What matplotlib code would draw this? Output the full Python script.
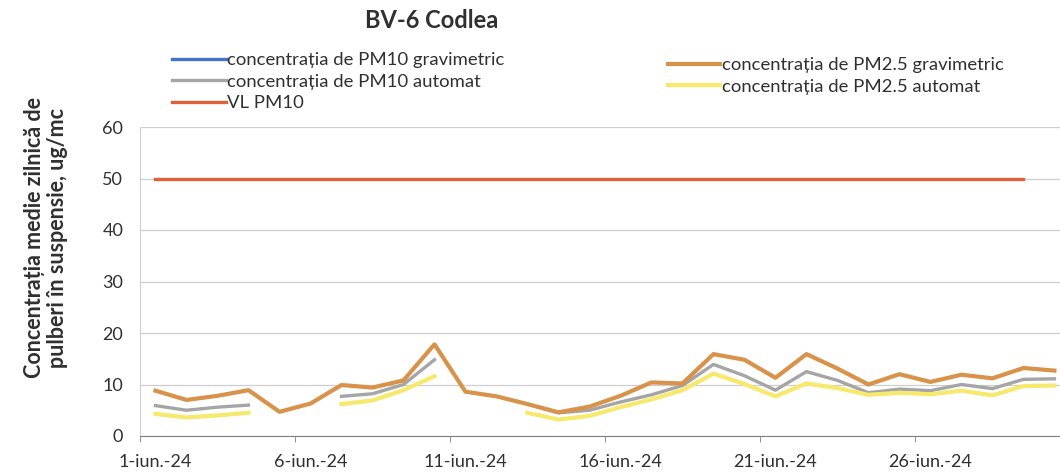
import matplotlib
matplotlib.use("Agg")
import matplotlib.pyplot as plt
import numpy as np

nan = np.nan

# ── Data: daily mean concentrations, June 2024, station BV-6 Codlea ────────
zile = list(range(1, 31))
etichete_x = ["1-iun.-24", "6-iun.-24", "11-iun.-24", "16-iun.-24", "21-iun.-24", "26-iun.-24"]
zile_etichete = [1, 6, 11, 16, 21, 26]

pm10_grav = [nan] * 30
pm10_auto = [5.9, 5.0, 5.6, 6.0, nan, nan, 7.7, 8.2, 10.0, 14.8,
             nan, nan, 6.2, 4.5, 5.0, 6.6, 8.0, 9.8, 13.9, 11.7,
             8.9, 12.5, 10.8, 8.4, 9.1, 8.8, 10.0, 9.2, 11.0, 11.1]
vl_pm10 = [50, 50, 50, 50, 50, 50, 50, 50, 50, 50,
           50, 50, 50, 50, 50, 50, 50, 50, 50, 50,
           50, 50, 50, 50, 50, 50, 50, 50, 50, nan]
pm25_grav = [8.8, 7.0, 7.8, 8.9, 4.7, 6.3, 9.9, 9.4, 10.8, 17.8,
             8.6, 7.7, 6.2, 4.6, 5.7, 7.8, 10.4, 10.2, 15.9, 14.8,
             11.3, 15.9, 13.1, 10.0, 12.0, 10.5, 11.9, 11.2, 13.2, 12.7]
pm25_auto = [4.3, 3.6, 4.0, 4.5, nan, nan, 6.2, 6.9, 8.9, 11.6,
             nan, nan, 4.5, 3.2, 3.9, 5.6, 7.1, 8.9, 12.1, 10.1,
             7.7, 10.2, 9.3, 8.0, 8.4, 8.1, 8.8, 7.9, 9.7, 9.8]

plt.rcParams["font.family"] = ["Lato", "DejaVu Sans"]
TXT = "#303030"

fig = plt.figure(figsize=(10.6, 4.76), dpi=100)
ax = fig.add_axes([140 / 1060, 1 - 436 / 476, 920 / 1060, 309 / 476])

l1, = ax.plot(zile, pm10_grav, color="#4472C4", lw=2.4)
l2, = ax.plot(zile, pm10_auto, color="#A5A5A5", lw=2.4)
l3, = ax.plot(zile, vl_pm10, color="#E0603A", lw=2.4)
l4, = ax.plot(zile, pm25_grav, color="#D8924A", lw=3.0)
l5, = ax.plot(zile, pm25_auto, color="#F6E96B", lw=3.0)

ax.set_xlim(0.5, 30.18)
ax.set_ylim(0, 60)
ax.set_yticks(range(0, 61, 10))
ax.tick_params(axis="y", length=0, labelsize=13, pad=12, labelcolor=TXT)
ax.set_xticks(zile_etichete)
ax.set_xticklabels(etichete_x)
ax.tick_params(axis="x", which="major", length=0, labelsize=13, pad=13, labelcolor=TXT)
ax.set_xticks([0.5, 5.5, 10.5, 15.5, 20.5, 25.5], minor=True)
ax.tick_params(axis="x", which="minor", length=4, color="#808080", direction="out")
ax.grid(axis="y", color="#CFCFCF", lw=0.9)
for s in ["top", "right"]:
    ax.spines[s].set_visible(False)
ax.spines["left"].set_color("#D0D0D0")
ax.spines["bottom"].set_color("#808080")
ax.set_axisbelow(True)

fig.text(432 / 1060, 1 - 20 / 476, "BV-6 Codlea", ha="center", va="center",
         fontsize=17, fontweight="bold", color=TXT)
fig.text(46 / 1060, 1 - 238 / 476,
         "Concentrația medie zilnică de\npulberi în suspensie, ug/mc",
         rotation=90, ha="center", va="center", fontsize=15.5,
         fontweight="bold", color=TXT, linespacing=1.1)

leg1 = fig.legend([l1, l2, l3],
                  ["concentrația de PM10 gravimetric", "concentrația de PM10 automat", "VL PM10"],
                  loc="upper left", bbox_to_anchor=(172 / 1060, 1 - 52 / 476),
                  frameon=False, fontsize=13.3, handlelength=2.9, handletextpad=0.1,
                  labelspacing=0.3, borderaxespad=0, borderpad=0)
leg2 = fig.legend([l4, l5],
                  ["concentrația de PM2.5 gravimetric", "concentrația de PM2.5 automat"],
                  loc="upper left", bbox_to_anchor=(668 / 1060, 1 - 57 / 476),
                  frameon=False, fontsize=13.3, handlelength=2.8, handletextpad=0.1,
                  labelspacing=0.3, borderaxespad=0, borderpad=0)
for leg in (leg1, leg2):
    for t in leg.get_texts():
        t.set_color(TXT)

fig.savefig("out.png", dpi=100)
